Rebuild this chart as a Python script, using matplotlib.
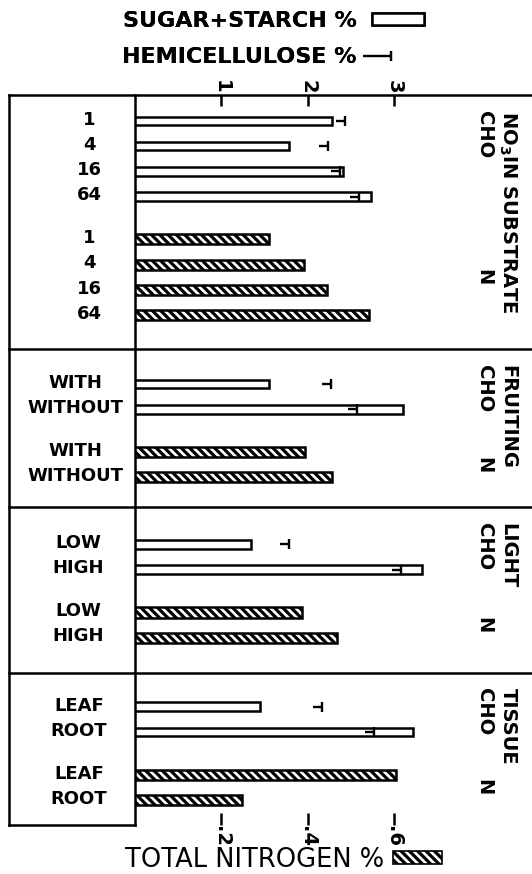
import matplotlib
matplotlib.use("Agg")
import matplotlib.pyplot as plt
from matplotlib.patches import Patch
from matplotlib.lines import Line2D
from matplotlib.path import Path
from matplotlib.transforms import blended_transform_factory
from matplotlib.ticker import FuncFormatter

plt.rcParams['font.family'] = ['DejaVu Sans']
plt.rcParams['mathtext.default'] = 'bf'
plt.rcParams['hatch.linewidth'] = 2.3

# ---------------- data ----------------
panel_titles = ["NO$_3$IN SUBSTRATE", "FRUITING", "LIGHT", "TISSUE"]
row_labels = [["1", "4", "16", "64"], ["WITH", "WITHOUT"], ["LOW", "HIGH"], ["LEAF", "ROOT"]]
sugar_starch = [[2.28, 1.79, 2.41, 2.74], [1.55, 3.10], [1.34, 3.33], [1.45, 3.22]]
hemicellulose = [[2.43, 2.24, 2.38, 2.59], [2.27, 2.57], [1.78, 3.08], [2.17, 2.77]]
total_nitrogen = [[0.310, 0.391, 0.444, 0.542], [0.395, 0.457], [0.387, 0.469], [0.605, 0.248]]
cho_ticks = [1, 2, 3]
n_ticks = [0.2, 0.4, 0.6]

# ---------------- layout (style) ----------------
pad_top = [1.03, 1.39, 1.47, 1.35]
pad_bottom = [1.35, 1.19, 1.39, 0.99]
group_gap = 1.70
label_cx_px = [89, 75, 78, 79]
LW = 1.8
HATCH = '\\\\\\\\'
W, H = 532, 874
ax_left_px, ax_right_px, ax_top_px, ax_bot_px = 135, 532, 95, 825

fig = plt.figure(figsize=(W / 100, H / 100), dpi=100)
ax = fig.add_axes([ax_left_px / W, 1 - ax_bot_px / H,
                   (ax_right_px - ax_left_px) / W, (ax_bot_px - ax_top_px) / H])
ax2 = ax.twiny()

# compute row positions
cho_y, n_y, panel_bounds = [], [], []
y = 0.0
for i, labs in enumerate(row_labels):
    top = y
    y += pad_top[i]
    cy = [y + k for k in range(len(labs))]
    y = cy[-1] + group_gap
    ny = [y + k for k in range(len(labs))]
    y = ny[-1] + pad_bottom[i]
    cho_y.append(cy)
    n_y.append(ny)
    panel_bounds.append((top, y))
total = y

xmax = (ax_right_px - ax_left_px) / 86.3
ax.set_xlim(0, xmax)
ax.set_ylim(total, 0)
ax2.set_xlim(0, xmax / 5)
ax2.set_ylim(total, 0)

# hemicellulose marker
hemi_marker = Path([(-1, 0), (0, 0), (0, -0.5), (0, 0.5)],
                   [Path.MOVETO, Path.LINETO, Path.MOVETO, Path.LINETO])

for i in range(len(row_labels)):
    ax.barh(cho_y[i], sugar_starch[i], height=0.34, facecolor='white',
            edgecolor='black', linewidth=LW, zorder=3)
    ax.plot(hemicellulose[i], cho_y[i], linestyle='none', marker=hemi_marker,
            markersize=13, markeredgewidth=1.7, color='black', zorder=4)
    ax2.barh(n_y[i], total_nitrogen[i], height=0.40, facecolor='white',
             edgecolor='black', hatch=HATCH, linewidth=LW, zorder=3)

trans = blended_transform_factory(ax.transAxes, ax.transData)
axw = ax_right_px - ax_left_px
left_box = (9 - ax_left_px) / axw

# row labels and panel captions
for i, labs in enumerate(row_labels):
    cx = (label_cx_px[i] - ax_left_px) / axw
    for lab, yy in zip(labs + labs, cho_y[i] + n_y[i]):
        ax.text(cx, yy - 0.05, lab, transform=trans, ha='center', va='center',
                fontsize=13, fontweight='bold')
    top, bot = panel_bounds[i]
    ax.text((508 - ax_left_px) / axw, top + 0.62, panel_titles[i], transform=trans,
            rotation=-90, ha='center', va='top', fontsize=14, fontweight='bold')
    ax.text((484 - ax_left_px) / axw, top + 0.62, "CHO", transform=trans,
            rotation=-90, ha='center', va='top', fontsize=14, fontweight='bold')
    ax.text((484 - ax_left_px) / axw, (n_y[i][0] + n_y[i][-1]) / 2, "N", transform=trans,
            rotation=-90, ha='center', va='center', fontsize=14, fontweight='bold')

# frame lines
for top, bot in panel_bounds:
    ax.plot([left_box, 1], [top, top], transform=trans, color='black', lw=LW,
            clip_on=False, solid_capstyle='projecting')
ax.plot([left_box, 0], [total, total], transform=trans, color='black', lw=LW,
        clip_on=False, solid_capstyle='projecting')
ax.plot([left_box, left_box], [0, total], transform=trans, color='black', lw=LW,
        clip_on=False)

for a in (ax, ax2):
    for s in ('top', 'right', 'bottom'):
        a.spines[s].set_visible(False)
ax2.spines['left'].set_visible(False)
ax.spines['left'].set_linewidth(LW)
ax.set_yticks([])
ax2.set_yticks([])

# top axis: CHO %
ax.xaxis.tick_top()
ax.set_xticks(cho_ticks)
ax.set_xticklabels([str(t) for t in cho_ticks], rotation=-90, fontsize=14,
                   fontweight='bold')
ax.tick_params(axis='x', direction='in', length=8, width=LW, pad=1)

# bottom axis: N %
ax2.xaxis.tick_bottom()
ax2.set_xticks(n_ticks)
ax2.xaxis.set_major_formatter(FuncFormatter(lambda v, p: f"{v:.1f}".lstrip('0')))
ax2.tick_params(axis='x', direction='in', length=9, width=LW, pad=1,
                labelsize=14, labelrotation=-90)
for t in ax2.get_xticklabels():
    t.set_fontweight('bold')

# legends
leg1 = fig.legend(handles=[Patch(facecolor='white', edgecolor='black', linewidth=LW)],
                  labels=["SUGAR+STARCH %"], loc='center left',
                  bbox_to_anchor=(123 / W, 1 - 21 / H), frameon=False,
                  markerfirst=False, handlelength=2.3, handleheight=0.42,
                  handletextpad=0.7, borderpad=0, borderaxespad=0,
                  prop={'size': 16, 'weight': 'bold'})
legend_hemi = Path([(-1, 0), (0, 0), (0, -0.17), (0, 0.17)],
                   [Path.MOVETO, Path.LINETO, Path.MOVETO, Path.LINETO])
leg2 = fig.legend(handles=[Line2D([], [], linestyle='none', marker=legend_hemi,
                                  markersize=40, markeredgewidth=1.6, color='black')],
                  labels=["HEMICELLULOSE %"], loc='center left',
                  bbox_to_anchor=(122 / W, 1 - 57 / H), frameon=False,
                  markerfirst=False, handlelength=2.5, handleheight=0.5,
                  handletextpad=0.3, borderpad=0, borderaxespad=0,
                  prop={'size': 16, 'weight': 'bold'})
fig.add_artist(leg1)
leg3 = fig.legend(handles=[Patch(facecolor='white', edgecolor='black', hatch=HATCH,
                                 linewidth=1.2)],
                  labels=["TOTAL NITROGEN %"], loc='center left',
                  bbox_to_anchor=(125 / W, 1 - 860 / H), frameon=False,
                  markerfirst=False, handlelength=1.9, handleheight=0.4,
                  handletextpad=0.35, borderpad=0, borderaxespad=0,
                  prop={'size': 18.5})
fig.add_artist(leg2)

fig.savefig("out.png", dpi=100, facecolor='white')
